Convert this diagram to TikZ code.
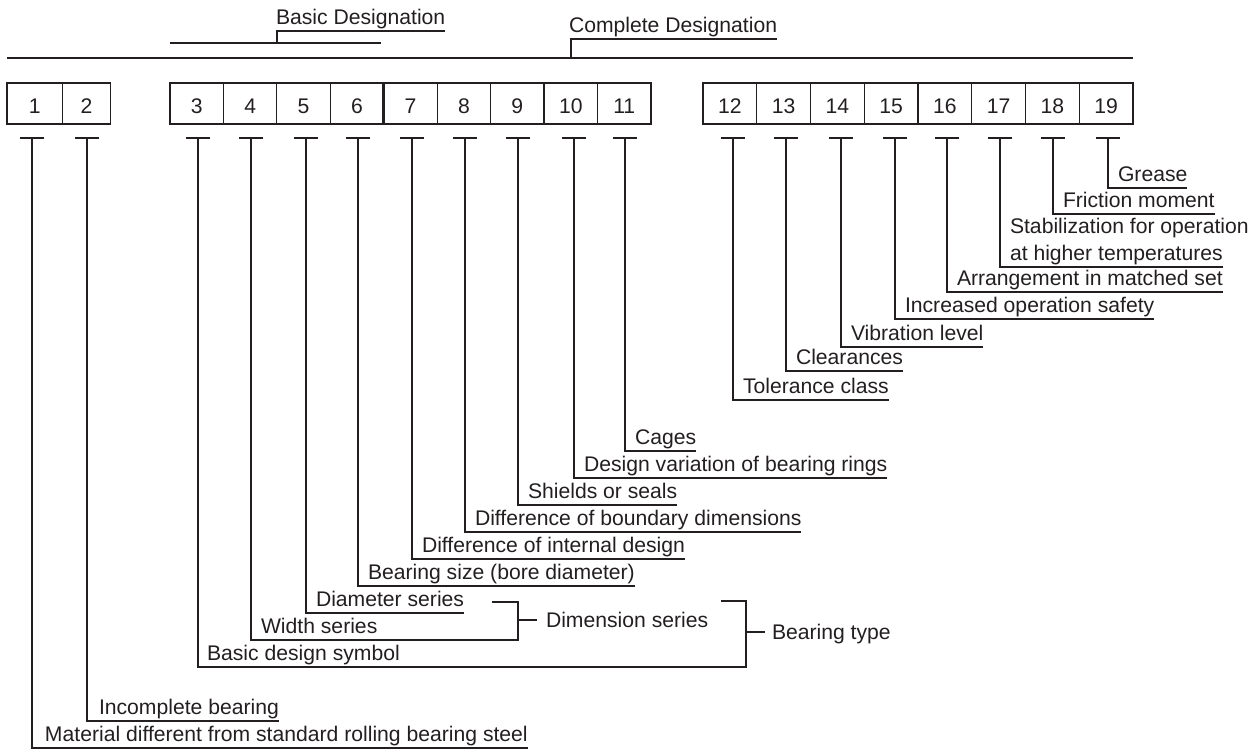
\documentclass[tikz,border=0pt]{standalone}
\usepackage{fontspec}
\setmainfont{Liberation Sans}
\definecolor{ink}{RGB}{35,31,32}
\begin{document}
\begin{tikzpicture}[x=1pt,y=-1pt,
  every node/.style={text=ink, font=\fontsize{21.15}{26.5}\selectfont},
  ln/.style={draw=ink, line width=1.1pt},
  mainln/.style={draw=ink, line width=1.4pt},
  box/.style={draw=ink, line width=1.2pt, minimum height=41pt, inner sep=0pt, outer sep=0pt, text height=20pt, text depth=0pt},
  lab/.style={anchor=south west, inner xsep=0pt, inner ysep=7pt, text depth=0pt, outer sep=0pt},
  plain/.style={anchor=base west, inner sep=0pt, outer sep=0pt}]
\useasboundingbox (0,0) rectangle (1259,753);

% headers
\node[lab] (basic) at (276,31) {Basic Designation};
\coordinate (basictick) at (277,43);
\draw[ln] (170,43) -- (381,43);
\draw[ln] (basictick) |- (basic.south east);
\node[lab] (complete) at (569,39) {Complete Designation};
\coordinate (completetick) at (571,58);
\draw[mainln] (7,58) -- (1133,58);
\draw[ln] (completetick) |- (complete.south east);

% boxes
\node[box, minimum width=55.5pt] (b1) at (34.75,103.5) {1};
\node[box, minimum width=48pt] (b2) at (86.5,103.5) {2};
\foreach \i in {3,...,11}{
  \pgfmathsetmacro\cx{170+53.44*(\i-3)+26.72}
  \node[box, minimum width=53.44pt] (b\i) at (\cx,103.5) {\i};
}
\foreach \i in {12,...,19}{
  \pgfmathsetmacro\cx{703+53.75*(\i-12)+26.875}
  \node[box, minimum width=53.75pt] (b\i) at (\cx,103.5) {\i};
}
\draw[draw=ink, line width=2.6pt] (b3.north west) rectangle (b6.south east);

% ticks
\foreach \i/\v in {1/32,2/87,3/198,4/251,5/306,6/358,7/412,8/465,9/518,10/574,11/625,
                   12/733,13/786,14/841,15/895,16/947,17/1000,18/1053,19/1108}{
  \coordinate (k\i) at (\v,138);
  \draw[ln] (\v-12,138) -- (\v+12,138);
}

% right group labels
\node[lab] (l19) at (1118,188) {Grease};
\draw[ln] (k19) |- (l19.south east);
\node[lab] (l18) at (1063,214) {Friction moment};
\draw[ln] (k18) |- (l18.south east);
\node[plain] (l17a) at (1010,233.5) {Stabilization for operation};
\node[lab] (l17) at (1010,267) {at higher temperatures};
\draw[ln] (k17) |- (l17.south east);
\node[lab] (l16) at (957,292) {Arrangement in matched set};
\draw[ln] (k16) |- (l16.south east);
\node[lab] (l15) at (905,319) {Increased operation safety};
\draw[ln] (k15) |- (l15.south east);
\node[lab] (l14) at (851,347) {Vibration level};
\draw[ln] (k14) |- (l14.south east);
\node[lab] (l13) at (796,371) {Clearances};
\draw[ln] (k13) |- (l13.south east);
\node[lab] (l12) at (743,400) {Tolerance class};
\draw[ln] (k12) |- (l12.south east);

% left group labels
\node[lab] (l11) at (635,451) {Cages};
\draw[ln] (k11) |- (l11.south east);
\node[lab] (l10) at (584,478) {Design variation of bearing rings};
\draw[ln] (k10) |- (l10.south east);
\node[lab] (l9) at (528,505) {Shields or seals};
\draw[ln] (k9) |- (l9.south east);
\node[lab] (l8) at (475,532) {Difference of boundary dimensions};
\draw[ln] (k8) |- (l8.south east);
\node[lab] (l7) at (422,559) {Difference of internal design};
\draw[ln] (k7) |- (l7.south east);
\node[lab] (l6) at (368,586) {Bearing size (bore diameter)};
\draw[ln] (k6) |- (l6.south east);
\node[lab] (l5) at (316,613) {Diameter series};
\draw[ln] (k5) |- (l5.south east);
\node[lab] (l4) at (261,640) {Width series};
\node[lab] (l3) at (207,667) {Basic design symbol};
\node[lab] (l2) at (99,721) {Incomplete bearing};
\draw[ln] (k2) |- (l2.south east);
\node[lab] (l1) at (45,748) {Material different from standard rolling bearing steel};
\draw[ln] (k1) |- (l1.south east);

% dimension series bracket
\coordinate (dimtop) at (492,602);
\coordinate (dimcorner) at (518,602);
\coordinate (dimbot) at (518,640);
\coordinate (dimmid) at (518,620);
\coordinate (dimdash) at (537,620);
\draw[ln] (k4) |- (dimbot) -- (dimcorner) -- (dimtop);
\draw[ln] (dimmid) -- (dimdash);
\node[plain] (dim) at (546,627) {Dimension series};

% bearing type bracket
\coordinate (bttop) at (721,601);
\coordinate (btcorner) at (746,601);
\coordinate (btbot) at (746,667);
\coordinate (btmid) at (746,632);
\coordinate (btdash) at (765,632);
\draw[ln] (k3) |- (btbot) -- (btcorner) -- (bttop);
\draw[ln] (btmid) -- (btdash);
\node[plain] (btype) at (772,639) {Bearing type};
\end{tikzpicture}
\end{document}
